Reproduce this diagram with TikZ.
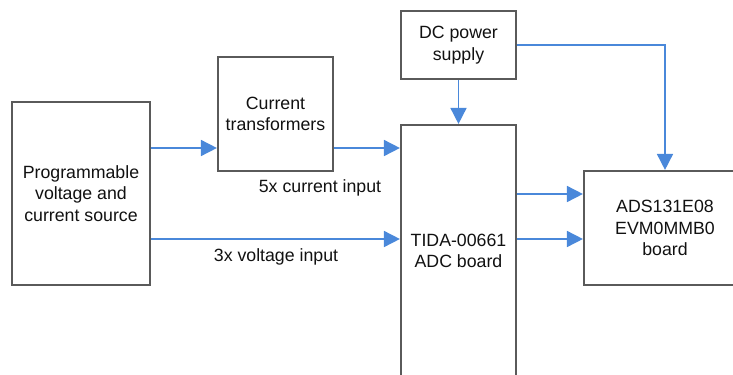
\documentclass[tikz,border=0pt]{standalone}
\usepackage{fontspec}
\setmainfont{Liberation Sans}
\usetikzlibrary{arrows.meta,calc,positioning}
\definecolor{PaperCard}{HTML}{FFFFFF}
\definecolor{BoxInk}{HTML}{5A5A5A}
\definecolor{TextInk}{HTML}{111111}
\definecolor{WireBlue}{HTML}{4A88DA}

\begin{document}
\begin{tikzpicture}[x=0.75pt, y=-0.75pt,
    every node/.style={text=TextInk,font=\fontsize{13.3}{16}\selectfont,align=center,inner sep=0pt},
    block/.style={draw=BoxInk,fill=PaperCard,line width=1.6pt,rectangle},
    wire/.style={WireBlue,line width=1.2pt,-{Triangle[length=12pt,width=12pt]}}]
    \useasboundingbox (0,0) rectangle (733,375);
    \clip (0,0) rectangle (733,375);
    % blocks
    \node[block,minimum width=103.5pt,minimum height=137.25pt] (src) at (81,193.5) {Programmable\\voltage and\\current source};
    \node[block,minimum width=86.25pt,minimum height=85.5pt] (ct) at (275.5,114) {Current\\transformers};
    \node[block,minimum width=86.25pt,minimum height=51pt] (dc) at (458.5,45) {DC power\\supply};
    \node[block,minimum width=86.25pt,minimum height=189pt] (adc) at (458.5,251) {TIDA-00661\\ADC board};
    \node[block,minimum width=121.5pt,minimum height=85.5pt] (ads) at (665,228) {ADS131E08\\EVM0MMB0\\board};
    % signal rows
    \coordinate (rowA) at (0,148);
    \coordinate (rowB) at (0,239);
    \coordinate (rowC) at (0,194);
    \draw[wire] (src.east |- rowA) -- (ct.west |- rowA);
    \draw[wire] (ct.east |- rowA) -- (adc.west |- rowA);
    \draw[wire] (src.east |- rowB) -- (adc.west |- rowB);
    \draw[wire] (dc.south) -- (adc.north);
    \draw[wire] (dc.east) -| (ads.north);
    \draw[wire] (adc.east |- rowC) -- (ads.west |- rowC);
    \draw[wire] (adc.east |- rowB) -- (ads.west |- rowB);
    % labels
    \node (curlbl) at (320,188) {5x current input};
    \node (vollbl) at (276,257) {3x voltage input};
  \end{tikzpicture}
\end{document}
